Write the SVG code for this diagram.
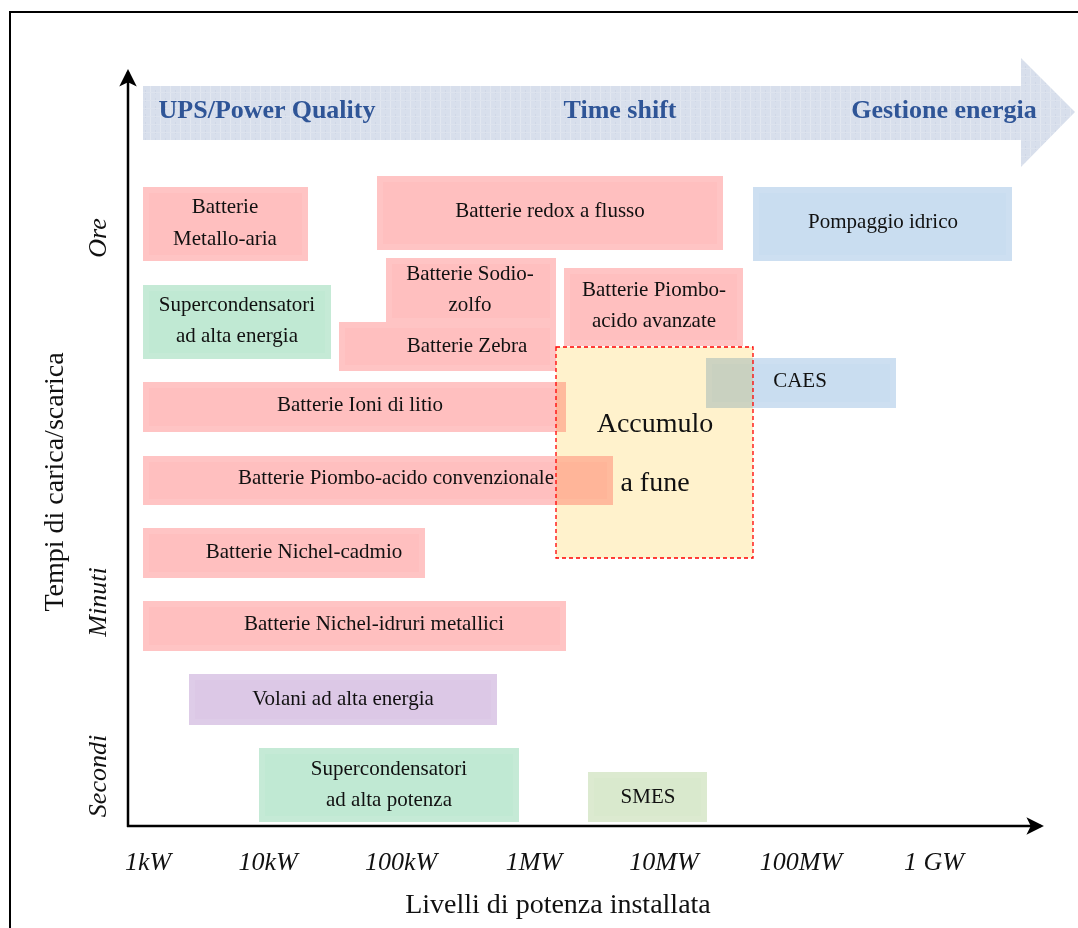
<svg xmlns="http://www.w3.org/2000/svg" width="1078" height="928" viewBox="0 0 1078 928">
<style>
.t{font-family:"Liberation Serif","Times New Roman",serif;font-size:21px;fill:#111;text-anchor:middle}
.tick{font-family:"Liberation Serif","Times New Roman",serif;font-size:26px;font-style:italic;fill:#111;text-anchor:middle}
.lab{font-family:"Liberation Serif","Times New Roman",serif;font-size:28px;fill:#111;text-anchor:middle}
.ban{font-family:"Liberation Serif","Times New Roman",serif;font-size:26px;font-weight:bold;fill:#2f5597;text-anchor:middle}
.bev{fill:none;stroke:#fff;stroke-opacity:0.08;stroke-width:6}
.pink{fill:#ffbfbf}
.green{fill:#c0e9d3}
.blue{fill:#c9ddf0}
.purple{fill:#dcc8e6}
.smes{fill:#d9e9cd}
.axis{stroke:#000;stroke-width:2.5;fill:none}
</style>
<defs>
<marker id="ah" viewBox="0 0 12 12" refX="10" refY="6" markerWidth="7" markerHeight="7" orient="auto" markerUnits="strokeWidth">
<path d="M0,0 L12,6 L0,12 L3,6 z" fill="#000"/>
</marker>
<pattern id="tex" width="10" height="8" patternUnits="userSpaceOnUse">
<rect width="10" height="8" fill="#d8dfec"/>
<rect x="0" y="0" width="1" height="8" fill="#e2e7f0"/>
<rect x="5" y="2" width="1" height="4" fill="#cfd7e6"/>
<rect x="0" y="4" width="10" height="1" fill="#dde3ee"/>
</pattern>
</defs>
<rect x="0" y="0" width="1078" height="928" fill="#fff"/>
<rect x="10" y="12" width="1110" height="1000" fill="none" stroke="#000" stroke-width="2"/>

<g id="banner">
<path d="M143,86 L1021,86 L1021,58 L1075,112 L1021,167 L1021,140 L143,140 z" fill="url(#tex)"/>
<text class="ban" x="267" y="118">UPS/Power Quality</text>
<text class="ban" x="620" y="118">Time shift</text>
<text class="ban" x="944" y="118">Gestione energia</text>
</g>

<g id="connectors">
<line class="axis" x1="128" y1="827" x2="128" y2="72" marker-end="url(#ah)"/>
<line class="axis" x1="127" y1="826" x2="1041" y2="826" marker-end="url(#ah)"/>
</g>

<g id="n-metallo-aria">
<rect class="pink" x="143" y="187" width="165" height="74"/><rect class="bev" x="146" y="190" width="159" height="68"/>
<text class="t" x="225" y="213">Batterie</text><text class="t" x="225" y="245">Metallo-aria</text>
</g>
<g id="n-redox">
<rect class="pink" x="377" y="176" width="346" height="74"/><rect class="bev" x="380" y="179" width="340" height="68"/>
<text class="t" x="550" y="217">Batterie redox a flusso</text>
</g>
<g id="n-pompaggio">
<rect class="blue" x="753" y="187" width="259" height="74"/><rect class="bev" x="756" y="190" width="253" height="68"/>
<text class="t" x="883" y="228">Pompaggio idrico</text>
</g>
<g id="n-supercond-energia">
<rect class="green" x="143" y="285" width="188" height="74"/><rect class="bev" x="146" y="288" width="182" height="68"/>
<text class="t" x="237" y="311">Supercondensatori</text><text class="t" x="237" y="342">ad alta energia</text>
</g>
<g id="n-sodio-zolfo">
<rect class="pink" x="386" y="258" width="170" height="66"/><rect class="bev" x="389" y="261" width="164" height="60"/>
<text class="t" x="470" y="280">Batterie Sodio-</text><text class="t" x="470" y="311">zolfo</text>
</g>
<g id="n-zebra">
<rect class="pink" x="339" y="322" width="217" height="49"/><rect class="bev" x="342" y="325" width="211" height="43"/>
<text class="t" x="467" y="352">Batterie Zebra</text>
</g>
<g id="n-piombo-avanzate">
<rect class="pink" x="564" y="268" width="179" height="78"/><rect class="bev" x="567" y="271" width="173" height="72"/>
<text class="t" x="654" y="296">Batterie Piombo-</text><text class="t" x="654" y="327">acido avanzate</text>
</g>
<g id="n-caes">
<rect class="blue" x="706" y="358" width="190" height="50"/><rect class="bev" x="709" y="361" width="184" height="44"/>
<text class="t" x="800" y="387">CAES</text>
</g>
<g id="n-ioni-litio">
<rect class="pink" x="143" y="382" width="423" height="50"/><rect class="bev" x="146" y="385" width="417" height="44"/>
<text class="t" x="360" y="411">Batterie Ioni di litio</text>
</g>
<g id="n-piombo-conv">
<rect class="pink" x="143" y="456" width="470" height="49"/><rect class="bev" x="146" y="459" width="464" height="43"/>
<text class="t" x="396" y="484">Batterie Piombo-acido convenzionale</text>
</g>
<g id="n-nichel-cadmio">
<rect class="pink" x="143" y="528" width="282" height="50"/><rect class="bev" x="146" y="531" width="276" height="44"/>
<text class="t" x="304" y="558">Batterie Nichel-cadmio</text>
</g>
<g id="n-nichel-idruri">
<rect class="pink" x="143" y="601" width="423" height="50"/><rect class="bev" x="146" y="604" width="417" height="44"/>
<text class="t" x="374" y="630">Batterie Nichel-idruri metallici</text>
</g>
<g id="n-volani">
<rect class="purple" x="189" y="674" width="308" height="51"/><rect class="bev" x="192" y="677" width="302" height="45"/>
<text class="t" x="343" y="705">Volani ad alta energia</text>
</g>
<g id="n-supercond-potenza">
<rect class="green" x="259" y="748" width="260" height="74"/><rect class="bev" x="262" y="751" width="254" height="68"/>
<text class="t" x="389" y="775">Supercondensatori</text><text class="t" x="389" y="806">ad alta potenza</text>
</g>
<g id="n-smes">
<rect class="smes" x="588" y="772" width="119" height="50"/><rect class="bev" x="591" y="775" width="113" height="44"/>
<text class="t" x="648" y="803">SMES</text>
</g>
<g id="n-accumulo">
<rect x="556" y="347" width="197" height="211" fill="#fff2cc" style="mix-blend-mode:multiply"/>
<rect x="556" y="347" width="197" height="211" fill="none" stroke="#f00" stroke-width="1.3" stroke-dasharray="4,3"/>
<text class="t" x="655" y="432" style="font-size:28px">Accumulo</text>
<text class="t" x="655" y="491" style="font-size:28px">a fune</text>
</g>

<g id="labels">
<text class="tick" x="148" y="870">1kW</text>
<text class="tick" x="268" y="870">10kW</text>
<text class="tick" x="401" y="870">100kW</text>
<text class="tick" x="534" y="870">1MW</text>
<text class="tick" x="664" y="870">10MW</text>
<text class="tick" x="801" y="870">100MW</text>
<text class="tick" x="934" y="870">1 GW</text>
<text class="lab" x="558" y="913">Livelli di potenza installata</text>
<text class="lab" transform="translate(63,482) rotate(-90)">Tempi di carica/scarica</text>
<text class="tick" transform="translate(106,238) rotate(-90)">Ore</text>
<text class="tick" transform="translate(106,602) rotate(-90)">Minuti</text>
<text class="tick" transform="translate(106,776) rotate(-90)">Secondi</text>
</g>
</svg>
